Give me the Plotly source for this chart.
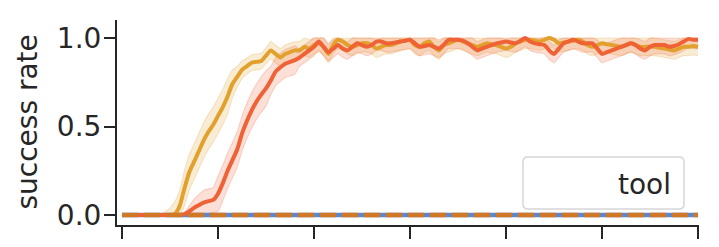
import numpy as np
import plotly.graph_objects as go

steps = np.arange(0, 601, 5)

tool_a_mean = [0]*11 + [
    0.005, 0.05, 0.15, 0.24, 0.30, 0.36, 0.42, 0.47, 0.51, 0.56,
    0.61, 0.67, 0.74, 0.78, 0.82, 0.84, 0.86, 0.865, 0.87, 0.90,
    0.93, 0.91, 0.89, 0.91, 0.92, 0.93, 0.93, 0.95, 0.94, 0.96,
    0.97, 0.95, 0.91, 0.96, 0.99, 0.98, 0.96, 0.95, 0.96, 0.97,
    0.97, 0.96, 0.94, 0.95, 0.96, 0.96, 0.97, 0.98, 0.985, 0.99,
    0.96, 0.95, 0.97, 0.98, 0.95, 0.93, 0.96, 0.97, 0.98, 0.99,
    0.98, 0.97, 0.96, 0.95, 0.96, 0.97, 0.965, 0.96, 0.95, 0.94,
    0.95, 0.97, 0.98, 0.99, 0.99, 0.985, 0.98, 0.99, 1.0, 0.99,
    0.97, 0.975, 0.98, 0.985, 0.99, 0.98, 0.96, 0.95, 0.96, 0.97,
    0.965, 0.96, 0.955, 0.95, 0.96, 0.97, 0.96, 0.95, 0.95, 0.95,
    0.95, 0.945, 0.94, 0.935, 0.93, 0.94, 0.95, 0.95, 0.955, 0.95]
tool_a_spread = [0]*8 + [0.005, 0.02, 0.04, 0.07, 0.09] + [0.1]*10 + [
    0.08, 0.06, 0.05, 0.045, 0.045, 0.045, 0.045, 0.045] + [0.05]*90

tool_b_mean = [0]*13 + [
    0.005, 0.02, 0.04, 0.055, 0.07, 0.078, 0.085, 0.12, 0.18, 0.25,
    0.31, 0.37, 0.46, 0.53, 0.59, 0.64, 0.68, 0.715, 0.76, 0.81,
    0.835, 0.855, 0.865, 0.875, 0.89, 0.91, 0.93, 0.95, 0.98, 0.95,
    0.92, 0.94, 0.96, 0.94, 0.93, 0.95, 0.97, 0.96, 0.95, 0.96,
    0.98, 0.98, 0.97, 0.97, 0.975, 0.98, 0.985, 0.99, 0.97, 0.95,
    0.955, 0.96, 0.95, 0.94, 0.96, 0.99, 0.99, 0.99, 0.985, 0.97,
    0.95, 0.93, 0.94, 0.95, 0.96, 0.97, 0.975, 0.98, 0.975, 0.97,
    0.985, 1.0, 0.98, 0.97, 0.965, 0.96, 0.93, 0.91, 0.94, 0.97,
    0.98, 0.99, 0.98, 0.97, 0.97, 0.97, 0.94, 0.91, 0.92, 0.93,
    0.94, 0.95, 0.96, 0.97, 0.96, 0.94, 0.93, 0.95, 0.96, 0.96,
    0.96, 0.95, 0.955, 0.965, 0.98, 0.995, 0.99, 0.99]
tool_b_spread = [0]*13 + [0.01, 0.03, 0.05, 0.06, 0.07, 0.07, 0.07] + [0.1]*11 + [
    0.08]*6 + [0.05]*84

tool_c_mean = [0.0]*121
tool_d_mean = [0.0]*121

y_ticks = [0.0, 0.5, 1.0]
y_tick_labels = ["0.0", "0.5", "1.0"]
x_ticks = [0, 100, 200, 300, 400, 500, 600]
y_title = "success rate"
legend_label = "tool"

C_A = "#E2A02C"
C_B = "#EE6236"
C_C = "#6187C4"
C_D = "#D07826"


def rgba(hexc, a):
    h = hexc.lstrip("#")
    return f"rgba({int(h[0:2],16)},{int(h[2:4],16)},{int(h[4:6],16)},{a})"


fig = go.Figure()


def band(mean, spread, color):
    m = np.array(mean, dtype=float)
    s = np.array(spread, dtype=float)
    lo = np.clip(m - s, 0, 1)
    hi = np.clip(m + s, 0, 1)
    fig.add_trace(go.Scatter(x=steps, y=lo, mode="lines",
                             line=dict(color=rgba(color, 0.22), width=1.2, shape="spline", smoothing=0.6),
                             showlegend=False, hoverinfo="skip"))
    fig.add_trace(go.Scatter(x=steps, y=hi, mode="lines", fill="tonexty",
                             fillcolor=rgba(color, 0.2),
                             line=dict(color=rgba(color, 0.22), width=1.2, shape="spline", smoothing=0.6),
                             showlegend=False, hoverinfo="skip"))


band(tool_a_mean, tool_a_spread, C_A)
band(tool_b_mean, tool_b_spread, C_B)

fig.add_trace(go.Scatter(x=steps, y=tool_c_mean, mode="lines",
                         line=dict(color=C_C, width=4.5), showlegend=False))
fig.add_trace(go.Scatter(x=steps, y=tool_a_mean, mode="lines",
                         line=dict(color=C_A, width=4, shape="spline", smoothing=0.6),
                         showlegend=False))
fig.add_trace(go.Scatter(x=steps, y=tool_b_mean, mode="lines",
                         line=dict(color=C_B, width=4, shape="spline", smoothing=0.6),
                         showlegend=False))
fig.add_trace(go.Scatter(x=steps, y=tool_d_mean, mode="lines",
                         line=dict(color=C_D, width=4.5, dash="16px,6px"),
                         showlegend=False))

# page body has an 8px margin; compensate so the plot lands where the reference has it
OFF = 8
W, H = 719 - OFF, 247 - OFF
L, R, T, B = 117 - OFF, 20, 20 - OFF, 22
pw, ph = W - L - R, H - T - B

FS = 28
axis_col = "#262626"
fig.update_layout(
    width=W, height=H,
    margin=dict(l=L, r=R, t=T, b=B, autoexpand=False),
    paper_bgcolor="white", plot_bgcolor="white",
    font=dict(family="DejaVu Sans", size=FS, color=axis_col),
    showlegend=False,
    xaxis=dict(range=[-5.2, 601], showgrid=False, zeroline=False,
               automargin=False,
               showline=True, linecolor=axis_col, linewidth=2,
               ticks="outside", ticklen=12, tickwidth=2, tickcolor=axis_col,
               tickvals=x_ticks, showticklabels=False),
    yaxis=dict(range=[-0.0565, 1.1017], showgrid=False, zeroline=False,
               automargin=False,
               showline=True, linecolor=axis_col, linewidth=2,
               ticks="outside", ticklen=11, tickwidth=2, tickcolor=axis_col,
               tickvals=y_ticks, ticktext=y_tick_labels,
               ticklabelstandoff=-3),
)


def px2paper(px, py):
    # px, py are reference-image pixel coordinates
    return (px - OFF - L) / pw, (H - B - (py - OFF)) / ph


# y-axis title
ax_, ay_ = px2paper(27, 122.5)
fig.add_annotation(x=ax_, y=ay_, xref="paper", yref="paper", text=y_title,
                   textangle=-90, showarrow=False, xanchor="center", yanchor="middle",
                   font=dict(size=FS, color=axis_col))

# legend box (rounded rectangle) with its label
x0, y1 = px2paper(523, 157)
x1, y0 = px2paper(684, 209)
rx, ry = 5 / pw, 5 / ph
path = (f"M {x0+rx},{y0} L {x1-rx},{y0} Q {x1},{y0} {x1},{y0+ry} "
        f"L {x1},{y1-ry} Q {x1},{y1} {x1-rx},{y1} L {x0+rx},{y1} "
        f"Q {x0},{y1} {x0},{y1-ry} L {x0},{y0+ry} Q {x0},{y0} {x0+rx},{y0} Z")
fig.add_shape(type="path", path=path, xref="paper", yref="paper",
              fillcolor="rgba(255,255,255,0.8)",
              line=dict(color="#d6d6d6", width=1.5), layer="above")
tx, ty = px2paper(673, 184)
fig.add_annotation(x=tx, y=ty, xref="paper", yref="paper", text=legend_label,
                   showarrow=False, xanchor="right", yanchor="middle",
                   font=dict(size=FS, color=axis_col))

fig.write_html("out.html")
